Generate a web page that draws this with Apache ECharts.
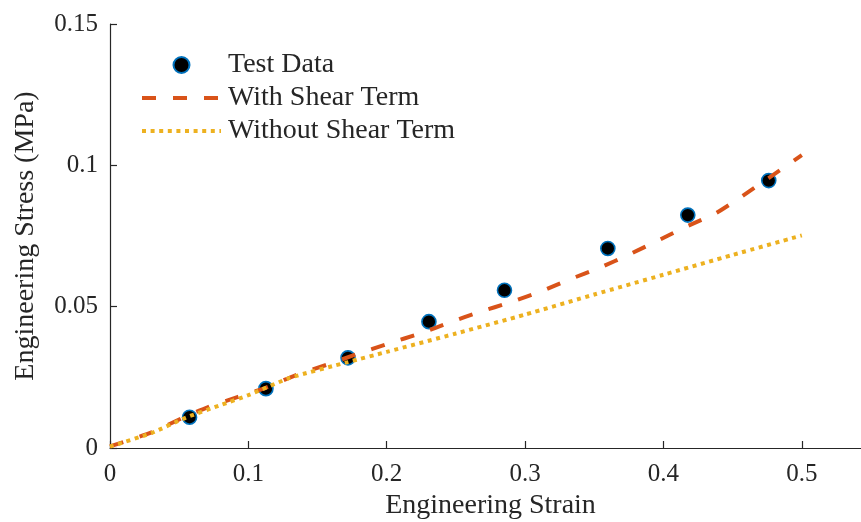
<!DOCTYPE html>
<html>
<head>
<meta charset="utf-8">
<script src="https://cdn.jsdelivr.net/npm/echarts@6/dist/echarts.min.js"></script>
<style>
  html, body { margin: 0; padding: 0; background: #fff; }
  #chart { width: 861px; height: 522px; }
</style>
</head>
<body>
<div id="chart"></div>
<script>
// Measured stress-strain test points
const testStrain = [0.0575, 0.1127, 0.172, 0.2305, 0.2851, 0.3598, 0.4176, 0.4761];
const testStress = [0.0109, 0.0210, 0.0319, 0.0447, 0.0558, 0.0706, 0.0824, 0.0946];

// Model prediction including the shear term
const shearStrain = [0, 0.03, 0.053, 0.070, 0.092, 0.113, 0.134, 0.157, 0.179, 0.2015, 0.224, 0.2455,
  0.267, 0.289, 0.311, 0.332, 0.354, 0.375, 0.396, 0.416, 0.438, 0.457, 0.476, 0.500];
const shearStress = [0.0006, 0.0055, 0.0108, 0.0143, 0.0180, 0.0214, 0.0257, 0.0295, 0.0333, 0.0370, 0.0405, 0.0444,
  0.0481, 0.0515, 0.0553, 0.0596, 0.0638, 0.0684, 0.0734, 0.0782, 0.0831, 0.0891, 0.0955, 0.1036];

// Model prediction without the shear term
const noShearStrain = [0, 0.03, 0.055, 0.08, 0.1, 0.13, 0.172, 0.2, 0.25, 0.3, 0.35, 0.4, 0.45, 0.5];
const noShearStress = [0.0005, 0.0053, 0.0108, 0.0152, 0.0187, 0.0248, 0.0304, 0.0340, 0.0405, 0.0472, 0.0543, 0.0613, 0.0683, 0.0752];

const xTicks = { min: 0, max: 0.55, step: 0.1 };
const yTicks = { min: 0, max: 0.15, step: 0.05 };

const seriesNames = ['Test Data', 'With Shear Term', 'Without Shear Term'];

const zip = (xs, ys) => xs.map((x, i) => [x, ys[i]]);

const FONT = '"Liberation Serif", "DejaVu Serif", serif';
const INK = '#262626';
const ORANGE = '#D95319';
const YELLOW = '#EDB120';
const DASHED = [14, 17];
const DOTTED = [4, 4.6];
const LINE_W = 4;

// line entries in the legend show only their stroke, no marker
const hiddenMarker = { color: 'rgba(0,0,0,0)', borderWidth: 0, borderColor: 'rgba(0,0,0,0)' };

const chart = echarts.init(document.getElementById('chart'), null, { renderer: 'canvas' });

chart.setOption({
  backgroundColor: '#ffffff',
  animation: false,
  grid: { left: 110, top: 24, width: 761, height: 424, containLabel: false, outerBoundsMode: 'none' },
  legend: {
    data: [
      { name: seriesNames[0] },
      { name: seriesNames[1], itemStyle: hiddenMarker,
        lineStyle: { color: ORANGE, width: LINE_W, type: DASHED, cap: 'butt' } },
      { name: seriesNames[2], itemStyle: hiddenMarker,
        lineStyle: { color: YELLOW, width: LINE_W, type: DOTTED, cap: 'butt' } }
    ],
    orient: 'vertical',
    left: 140,
    top: 50,
    padding: 0,
    itemGap: 3,
    itemWidth: 79,
    itemHeight: 16,
    textStyle: { fontFamily: FONT, fontSize: 28, color: INK, lineHeight: 30, padding: [0, 0, 0, 2] },
    selectedMode: false
  },
  xAxis: {
    type: 'value',
    min: xTicks.min,
    max: xTicks.max,
    interval: xTicks.step,
    name: 'Engineering Strain',
    nameLocation: 'middle',
    nameGap: 44,
    nameTextStyle: { fontFamily: FONT, fontSize: 28, color: INK },
    axisLine: { show: true, onZero: false, lineStyle: { color: INK, width: 1.2 } },
    axisTick: { show: true, inside: true, length: 7, lineStyle: { color: INK, width: 1.2 } },
    axisLabel: { fontFamily: FONT, fontSize: 25, color: INK, margin: 14, showMaxLabel: false },
    splitLine: { show: false }
  },
  yAxis: {
    type: 'value',
    min: yTicks.min,
    max: yTicks.max,
    interval: yTicks.step,
    name: 'Engineering Stress (MPa)',
    nameLocation: 'middle',
    nameGap: 70,
    nameTextStyle: { fontFamily: FONT, fontSize: 28, color: INK },
    axisLine: { show: true, onZero: false, lineStyle: { color: INK, width: 1.2 } },
    axisTick: { show: true, inside: true, length: 7, lineStyle: { color: INK, width: 1.2 } },
    axisLabel: { fontFamily: FONT, fontSize: 25, color: INK, margin: 12 },
    splitLine: { show: false }
  },
  series: [
    {
      name: seriesNames[0],
      type: 'scatter',
      data: zip(testStrain, testStress),
      symbol: 'circle',
      symbolSize: 14,
      itemStyle: { color: '#000000', borderColor: '#0072BD', borderWidth: 1.6, opacity: 1 },
      z: 2
    },
    {
      name: seriesNames[1],
      type: 'line',
      data: zip(shearStrain, shearStress),
      showSymbol: false,
      symbol: 'none',
      smooth: 0.2,
      lineStyle: { color: ORANGE, width: LINE_W, type: DASHED, cap: 'butt' },
      itemStyle: { color: ORANGE },
      z: 3
    },
    {
      name: seriesNames[2],
      type: 'line',
      data: zip(noShearStrain, noShearStress),
      showSymbol: false,
      symbol: 'none',
      smooth: 0.2,
      lineStyle: { color: YELLOW, width: LINE_W, type: DOTTED, cap: 'butt' },
      itemStyle: { color: YELLOW },
      z: 4
    }
  ]
});
</script>
</body>
</html>
